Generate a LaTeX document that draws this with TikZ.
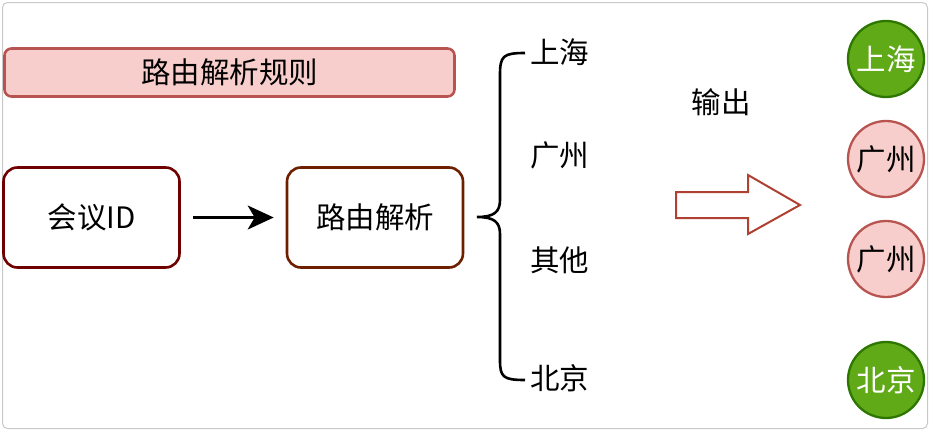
\documentclass[tikz,border=0pt]{standalone}
\usepackage{fontspec}
\setmainfont{Noto Sans CJK SC}
\usetikzlibrary{arrows.meta}
\definecolor{pinkfill}{HTML}{F8CECC}
\definecolor{pinkline}{HTML}{B85450}
\definecolor{darkred}{HTML}{6F0000}
\definecolor{brownline}{HTML}{6D1F00}
\definecolor{greenfill}{HTML}{60A917}
\definecolor{greenline}{HTML}{2D7600}
\definecolor{arrowline}{HTML}{AE4132}
\definecolor{frame}{HTML}{C8C8C8}
\tikzset{
  txt/.style={font=\fontsize{29.5}{33}\selectfont, inner sep=0pt},
  box/.style={draw, line width=2.6pt, rounded corners=14pt, fill=white, minimum width=176pt, minimum height=100pt, txt},
  rulebox/.style={draw=pinkline, fill=pinkfill, line width=2.6pt, rounded corners=7pt, minimum width=450pt, minimum height=48pt, txt},
  city/.style={circle, line width=2.3pt, minimum size=76pt, txt},
  greencity/.style={city, draw=greenline, fill=greenfill, text=white},
  pinkcity/.style={city, draw=pinkline, fill=pinkfill, text=black},
  lbl/.style={txt, anchor=west},
}
\begin{document}
\begin{tikzpicture}[x=1pt,y=-1pt]
\useasboundingbox (0,0) rectangle (930,431);
\draw[frame, line width=1pt, rounded corners=5pt] (2.5,2.5) rectangle (927.5,428.5);

\node[rulebox] (rule) at (229.5,72.5) {路由解析规则};
\node[box, draw=darkred] (id) at (91.5,217.5) {会议ID};
\node[box, draw=brownline] (parse) at (375,217.5) {路由解析};
\draw[line width=2.6pt, -{Stealth[length=26pt,width=24pt,inset=7pt]}] ([xshift=12pt]id.east) -- ([xshift=-12pt]parse.west);

\coordinate (btop) at (525,53);
\coordinate (btip) at (477,217);
\coordinate (bbot) at (525,380);
\draw[line width=2.6pt] (btop) .. controls (503,53) and (500,56) .. (500,75)
  -- (500,200) .. controls (500,212) and (494,217) .. (btip)
  .. controls (494,217) and (500,222) .. (500,234)
  -- (500,360) .. controls (500,377) and (503,380) .. (bbot);

\node[lbl] (sh) at (530,52) {上海};
\node[lbl] (gz) at (530,155) {广州};
\node[lbl] (qt) at (530,260) {其他};
\node[lbl] (bj) at (530,378) {北京};

\node[txt] (out) at (721,102) {输出};
\draw[arrowline, fill=white, line width=2pt] (676,192) coordinate (ba) -- (748,192) -- (748,175) -- (800,205) -- (748,234) -- (748,218) -- (676,218) -- cycle;

\node[greencity] (c1) at (886,59) {上海};
\node[pinkcity] (c2) at (886,159) {广州};
\node[pinkcity] (c3) at (886,259) {广州};
\node[greencity] (c4) at (886,380) {北京};
\end{tikzpicture}
\end{document}
